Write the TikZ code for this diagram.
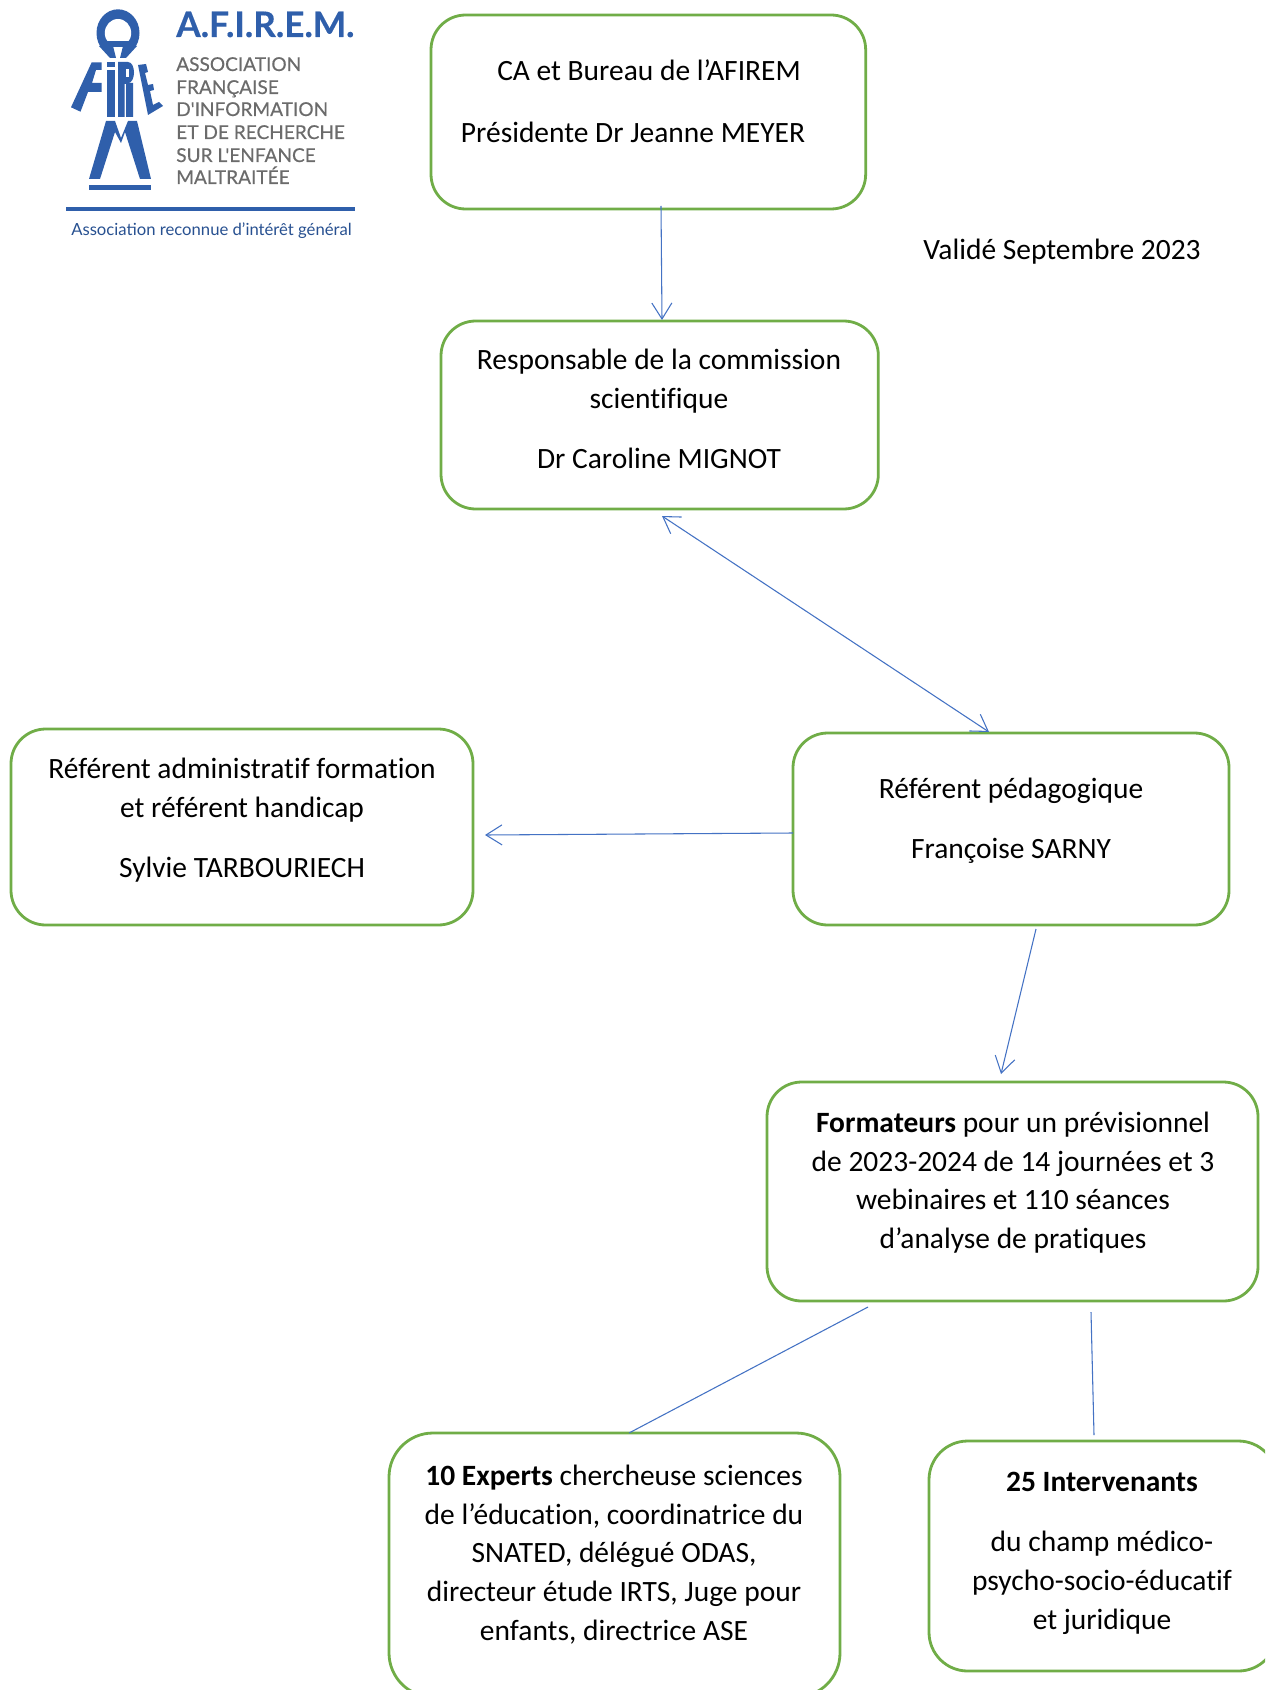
\documentclass[tikz,border=0pt]{standalone}
\usepackage{fontspec}
\setmainfont[Ligatures=NoCommon]{Carlito}
\newfontfamily\logofont[FakeBold=0.35]{Lato}
\newfontfamily\logotagfont{Lato}
\definecolor{boxgreen}{HTML}{70AD47}
\definecolor{linkblue}{HTML}{4472C4}
\definecolor{logoblue}{HTML}{2F5FAB}
\definecolor{logogrey}{HTML}{6B6B6B}
\usetikzlibrary{arrows.meta}
\tikzset{
  x=0.75pt,y=-0.75pt,
  box/.style={draw=boxgreen,line width=2.1pt,rounded corners=26pt,inner sep=0pt,outer sep=0pt,anchor=north west},
  tl/.style={anchor=base,inner sep=0pt,font=\fontsize{22.1pt}{24pt}\selectfont,text=black},
  link/.style={draw=linkblue,line width=0.8pt},
  barb/.tip={Straight Barb[length=12pt,width=15pt,line width=0.8pt]},
  logotitle/.style={anchor=base west,inner sep=0pt,text=logoblue,font=\logofont\bfseries\fontsize{26.4pt}{26pt}\selectfont},
  logoline/.style={anchor=base west,inner sep=0pt,text=logogrey,font=\logofont\fontsize{14.3pt}{14pt}\selectfont},
  logofill/.style={fill=logoblue,draw=none},
}
\begin{document}
\begin{tikzpicture}
\useasboundingbox (0,0) rectangle (1265,1690);
\fill[white] (0,0) rectangle (1265,1690);
% boxes
\begin{scope}
\clip (0,0) rectangle (1265,1690);
\node[box,minimum width=326pt,minimum height=145.5pt] (ca) at (431,15) {};
\node[box,minimum width=328pt,minimum height=141pt] (resp) at (441,321) {};
\node[box,minimum width=346.5pt,minimum height=147pt] (admin) at (11,729) {};
\node[box,minimum width=327pt,minimum height=144pt] (peda) at (793,733) {};
\node[box,minimum width=368.25pt,minimum height=164.25pt] (form) at (767,1082) {};
\node[box,minimum width=338.25pt,minimum height=198pt,rounded corners=33pt] (exp) at (389,1433) {};
\node[box,minimum width=261pt,minimum height=172.5pt,rounded corners=29pt] (inter) at (929,1441) {};
\end{scope}
% text
\node[tl] (t1) at (649,81) {CA et Bureau de l’AFIREM};
\node[tl] (t2) at (633,142.5) {Présidente Dr Jeanne MEYER};
\node[tl] (t3) at (1062,260) {Validé Septembre 2023};
\node[tl] (t4) at (659,370) {Responsable de la commission};
\node[tl] (t5) at (659,408) {scientifique};
\node[tl] (t6) at (659,468) {Dr Caroline MIGNOT};
\node[tl] (t7) at (242,778) {Référent administratif formation};
\node[tl] (t8) at (242,817) {et référent handicap};
\node[tl] (t9) at (242,877) {Sylvie TARBOURIECH};
\node[tl] (t10) at (1011,798) {Référent pédagogique};
\node[tl] (t11) at (1011,858) {Françoise SARNY};
\node[tl] (t12) at (1013,1132) {\textbf{Formateurs} pour un prévisionnel};
\node[tl] (t13) at (1013,1171) {de 2023-2024 de 14 journées et 3};
\node[tl] (t14) at (1013,1209) {webinaires et 110 séances};
\node[tl] (t15) at (1013,1248) {d’analyse de pratiques};
\node[tl] (t16) at (614,1485) {\textbf{10 Experts} chercheuse sciences};
\node[tl] (t17) at (614,1524) {de l’éducation, coordinatrice du};
\node[tl] (t18) at (614,1562) {SNATED, délégué ODAS,};
\node[tl] (t19) at (614,1601) {directeur étude IRTS, Juge pour};
\node[tl] (t20) at (614,1640) {enfants, directrice ASE};
\node[tl] (t21) at (1102,1491) {\textbf{25 Intervenants}};
\node[tl] (t22) at (1102,1551) {du champ médico-};
\node[tl] (t23) at (1102,1590) {psycho-socio-éducatif};
\node[tl] (t24) at (1102,1629) {et juridique};
% connector ends
\coordinate (a1) at (661,206);  \coordinate (a2) at (662,320);
\coordinate (b1) at (662,516);  \coordinate (b2) at (989,732);
\coordinate (c1) at (peda.west |- 0,833);  \coordinate (c2) at (485,835);
\coordinate (d1) at (1036,929); \coordinate (d2) at (1001,1074);
\coordinate (e1) at (868,1307); \coordinate (e2) at (629,1433);
\coordinate (f1) at (1091,1312);\coordinate (f2) at (1094,1435);
\draw[link,-barb] (a1) -- (a2);
\draw[link,barb-barb] (b1) -- (b2);
\draw[link,-barb] (c1) -- (c2);
\draw[link,-barb] (d1) -- (d2);
\draw[link] (e1) -- (e2);
\draw[link] (f1) -- (f2);
% logo text
\node[logotitle] (lt) at (176,37) {A.F.I.R.E.M.};
\node[logoline] (l1) at (176,71) {ASSOCIATION};
\node[logoline] (l2) at (176,94) {FRANÇAISE};
\node[logoline] (l3) at (176,116) {D'INFORMATION};
\node[logoline] (l4) at (176,139) {ET DE RECHERCHE};
\node[logoline] (l5) at (176,162) {SUR L'ENFANCE};
\node[logoline] (l6) at (176,184) {MALTRAITÉE};
\node[anchor=base west,inner sep=0pt,text=logoblue!85!black,font=\logotagfont\fontsize{12.5pt}{12pt}\selectfont] (l7) at (71,236) {Association reconnue d’intérêt général};
\fill[logoblue] (66,207) rectangle (355,211);
% logo figure: head
\begin{scope}
\clip (90,5) rectangle (145,47);
\fill[logoblue] (118,33) ellipse [x radius=21.5,y radius=23.7];
\fill[white] (118,33) ellipse [x radius=13.2,y radius=14];
\end{scope}
\fill[logofill] (102,40.7) rectangle (134,47);
\fill[logofill] (99,46) -- (113,46) -- (116,58) -- (110,58) -- cycle;
\fill[logofill] (137,46) -- (123,46) -- (120,58) -- (126,58) -- cycle;
% logo figure: left arm
\fill[logofill] (91.7,62.3) -- (101.7,62.3) -- (101.7,70) -- (96,70) -- (92,83) -- (101.7,83) -- (101.7,92) -- (88,92) -- (80.5,111.7) -- (71,107.3) -- cycle;
% logo figure: trunk
\fill[logofill] (107,70) rectangle (115,117);
\fill[logofill] (107,62) rectangle (115,67);
\fill[logofill] (118,62) -- (128,62) .. controls (136,62) and (136,83) .. (128,83) -- (133,83) -- (133,117) -- (126,117) -- (126,84) -- (124.5,84) -- (124.5,117) -- (118,117) -- cycle;
\fill[white] (125.5,69) rectangle (128.5,77);
% logo figure: right arm
\fill[logofill] (138,65) -- (146,64) -- (148,72) -- (145,73) -- (148,85) -- (153,84) -- (154,90) -- (150,91) -- (153,105) -- (159,102) -- (163,106) -- (148,115) -- cycle;
% logo figure: legs
\fill[logofill] (89,179) -- (106,121) -- (115,121) -- (121,138) -- (128,121) -- (137,121) -- (151,179) -- (140,179) -- (125,132) -- (121,143) -- (115,132) -- (100,179) -- cycle;
\fill[logofill] (89,185) rectangle (151,190);
\end{tikzpicture}
\end{document}
